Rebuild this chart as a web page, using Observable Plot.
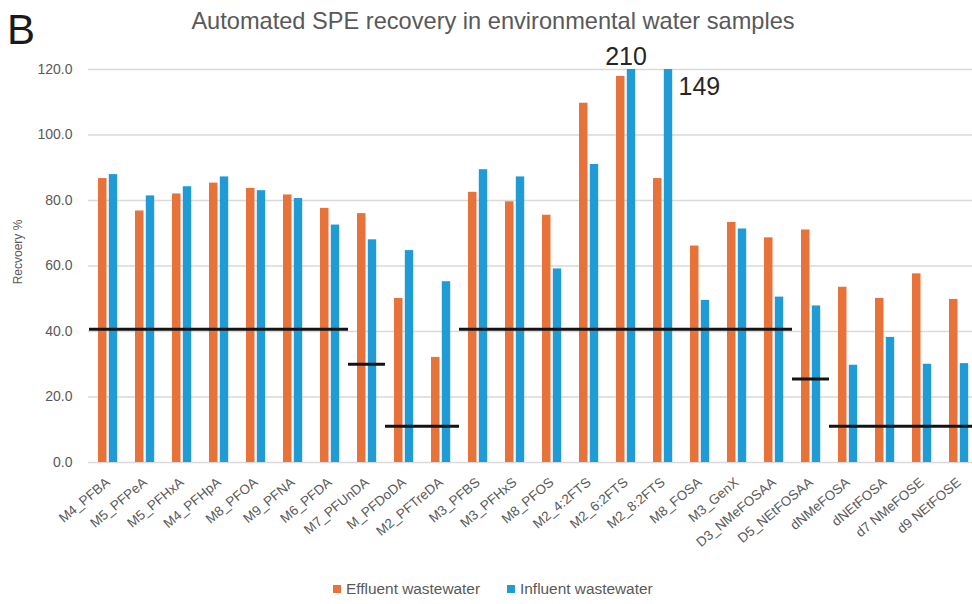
<!DOCTYPE html>
<html>
<head>
<meta charset="utf-8">
<script src="https://cdn.jsdelivr.net/npm/d3@7"></script>
<script src="https://cdn.jsdelivr.net/npm/@observablehq/plot@0.6"></script>
<style>
  html, body { margin: 0; padding: 0; background: #fff; overflow: hidden; }
  #wrap { position: relative; width: 972px; height: 604px; font-family: "Liberation Sans", Arial, sans-serif; }
  #chart { position: absolute; left: 0; top: 0; }
  .panel { position: absolute; left: 7px; top: 9px; font-size: 42px; line-height: 42px; color: #1a1a1a; }
  .title { position: absolute; left: 493px; top: 10px; transform: translateX(-50%); white-space: nowrap;
           font-size: 23.6px; line-height: 23px; color: #595959; }
  .ylab { position: absolute; left: 18px; top: 252px; transform: translate(-50%, -50%) rotate(-90deg);
          white-space: nowrap; font-size: 12px; line-height: 12px; color: #595959; }
  .legend { position: absolute; left: 333px; top: 580px; display: flex; align-items: center;
            font-size: 15.4px; line-height: 18px; color: #595959; white-space: nowrap; }
  .legend .sw { display: inline-block; width: 8px; height: 8px; margin-right: 5px; }
  .legend .item { display: flex; align-items: center; margin-right: 27px; }
</style>
</head>
<body>
<div id="wrap">
  <div id="chart"></div>
  <div class="panel">B</div>
  <div class="title">Automated SPE recovery in environmental water samples</div>
  <div class="ylab">Recvoery %</div>
  <div class="legend" id="legend"></div>
</div>
<script>
const categories = ["M4_PFBA","M5_PFPeA","M5_PFHxA","M4_PFHpA","M8_PFOA","M9_PFNA","M6_PFDA","M7_PFUnDA","M_PFDoDA","M2_PFTreDA","M3_PFBS","M3_PFHxS","M8_PFOS","M2_4:2FTS","M2_6:2FTS","M2_8:2FTS","M8_FOSA","M3_GenX","D3_NMeFOSAA","D5_NEtFOSAA","dNMeFOSA","dNEtFOSA","d7 NMeFOSE","d9 NEtFOSE"];
const effluent = [86.7, 76.8, 82.0, 85.3, 83.7, 81.7, 77.6, 76.0, 50.1, 32.1, 82.5, 79.6, 75.5, 109.7, 117.9, 86.7, 66.1, 73.3, 68.6, 71.0, 53.5, 50.1, 57.6, 49.8];
const influent = [87.9, 81.4, 84.2, 87.2, 83.0, 80.6, 72.5, 68.0, 64.7, 55.2, 89.4, 87.2, 59.1, 91.0, 210, 149, 49.5, 71.3, 50.5, 47.8, 29.7, 38.2, 30.0, 30.2];
const thresholds = [40.7, 40.7, 40.7, 40.7, 40.7, 40.7, 40.7, 30.0, 11.1, 11.1, 40.7, 40.7, 40.7, 40.7, 40.7, 40.7, 40.7, 40.7, 40.7, 25.5, 11.1, 11.1, 11.1, 11.1];
const seriesNames = ["Effluent wastewater", "Influent wastewater"];
const seriesColors = ["#e8733a", "#1f9bd6"];
const yTicks = [0, 20, 40, 60, 80, 100, 120];
const yMax = 120;

const rows = categories.map((c, i) => ({category: c, effluent: effluent[i], influent: influent[i], threshold: thresholds[i]}));
const over = rows.filter(d => d.influent > yMax);

const plot = Plot.plot({
  width: 972,
  height: 604,
  marginLeft: 88,
  marginRight: 0,
  marginTop: 69,
  marginBottom: 142,
  style: {fontFamily: "'Liberation Sans', Arial, sans-serif", fontSize: "14px", color: "#595959", background: "white"},
  x: {domain: categories, range: [88, 977], padding: 0, label: null, tickSize: 0, tickPadding: 18, tickRotate: -40},
  y: {domain: [0, yMax], clamp: true, ticks: yTicks, tickFormat: d3.format(".1f"), tickSize: 0, tickPadding: 16, label: null},
  marks: [
    Plot.ruleY(yTicks, {stroke: "#d9d9d9", strokeWidth: 1.3}),
    Plot.barY(rows, {x: "category", y: "effluent", fill: seriesColors[0], insetLeft: 9, insetRight: 19.5}),
    Plot.barY(rows, {x: "category", y: "influent", fill: seriesColors[1], insetLeft: 19.8, insetRight: 8.8}),
    Plot.tickY(rows, {x: "category", y: "threshold", stroke: "#141414", strokeWidth: 3}),
    Plot.text(over.slice(0, 1), {x: "category", y: "influent", text: d => String(d.influent), fontSize: 25, fill: "#262626", dy: -13, textAnchor: "middle"}),
    Plot.text(over.slice(1), {x: "category", y: "influent", text: d => String(d.influent), fontSize: 25, fill: "#262626", dx: 15.5, dy: 17, textAnchor: "start"})
  ]
});
document.getElementById("chart").appendChild(plot);
plot.querySelectorAll('[aria-label^="x-axis"] text').forEach(t => { t.style.fontSize = "13.5px"; });

const legend = document.getElementById("legend");
seriesNames.forEach((n, i) => {
  const item = document.createElement("div");
  item.className = "item";
  const sw = document.createElement("span");
  sw.className = "sw";
  sw.style.background = seriesColors[i];
  item.appendChild(sw);
  item.appendChild(document.createTextNode(n));
  legend.appendChild(item);
});
</script>
</body>
</html>
